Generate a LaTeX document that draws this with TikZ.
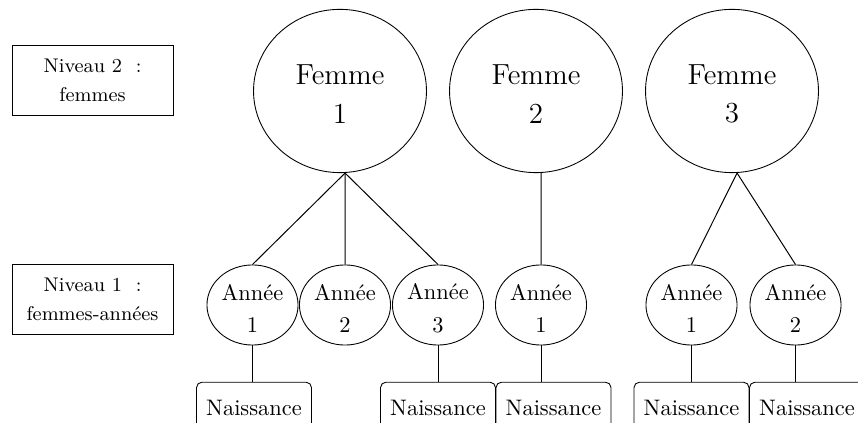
\documentclass[tikz,border=0pt]{standalone}
\usetikzlibrary{shapes.geometric}
\begin{document}
\begin{tikzpicture}[x=0.4545pt,y=-0.4545pt,
  femme/.style={draw,ellipse,inner sep=0pt,minimum width=78.6pt,minimum height=74.2pt,align=center,font=\fontsize{13.2}{17.5}\selectfont},
  annee/.style={draw,ellipse,inner sep=0pt,minimum width=41.4pt,minimum height=36.4pt,align=center,font=\fontsize{10.2}{14.6}\selectfont},
  niveau/.style={draw,rectangle,inner sep=0pt,minimum width=73.2pt,minimum height=31.8pt,align=center,font=\fontsize{9}{13.2}\selectfont},
  naiss/.style={draw,rectangle,rounded corners=2.5pt,inner sep=0pt,minimum width=52.3pt,minimum height=23pt,font=\fontsize{10.2}{12}\selectfont},
  link/.style={draw,line width=0.45pt}]
\useasboundingbox (0,0) rectangle (858,423);
% level boxes
\node[niveau] (n2) at (92.5,80) {Niveau 2~ :\\femmes};
\node[niveau] (n1) at (92.5,299) {Niveau 1~ :\\femmes-ann\'ees};
% women
\node[femme] (f1) at (340,91) {\rule{0pt}{11.8pt}Femme\\1};
\node[femme] (f2) at (536,91) {\rule{0pt}{11.8pt}Femme\\2};
\node[femme] (f3) at (732,91) {\rule{0pt}{11.8pt}Femme\\3};
% years
\node[annee] (a1) at (252.5,305) {\rule{0pt}{10.2pt}Ann\'ee\\1};
\node[annee] (a2) at (345,305) {\rule{0pt}{10.2pt}Ann\'ee\\2};
\node[annee] (a3) at (438,305) {\rule{0pt}{10.2pt}Ann\'ee\\3};
\node[annee] (b1) at (541,305) {\rule{0pt}{10.2pt}Ann\'ee\\1};
\node[annee] (c1) at (691.5,305) {\rule{0pt}{10.2pt}Ann\'ee\\1};
\node[annee] (c2) at (795.5,305) {\rule{0pt}{10.2pt}Ann\'ee\\2};
% births
\node[naiss] (na1) at (254,407.5) {Naissance};
\node[naiss] (na3) at (438,407.5) {Naissance};
\node[naiss] (nb1) at (553.5,407.5) {Naissance};
\node[naiss] (nc1) at (691.5,407.5) {Naissance};
\node[naiss] (nc2) at (807,407.5) {Naissance};
% connectors
\coordinate (p1) at ([xshift=2.3pt]f1.south);
\coordinate (p2) at ([xshift=2.3pt]f2.south);
\coordinate (p3) at ([xshift=2.3pt]f3.south);
\path[link] (p1) -- (a1.north);
\path[link] (p1) -- (a2.north);
\path[link] (p1) -- (a3.north);
\path[link] (p2) -- (b1.north);
\path[link] (p3) -- (c1.north);
\path[link] (p3) -- (c2.north);
\path[link] (a1.south) -- (a1.south |- na1.north);
\path[link] (a3.south) -- (a3.south |- na3.north);
\path[link] (b1.south) -- (b1.south |- nb1.north);
\path[link] (c1.south) -- (c1.south |- nc1.north);
\path[link] (c2.south) -- (c2.south |- nc2.north);
\end{tikzpicture}
\end{document}
